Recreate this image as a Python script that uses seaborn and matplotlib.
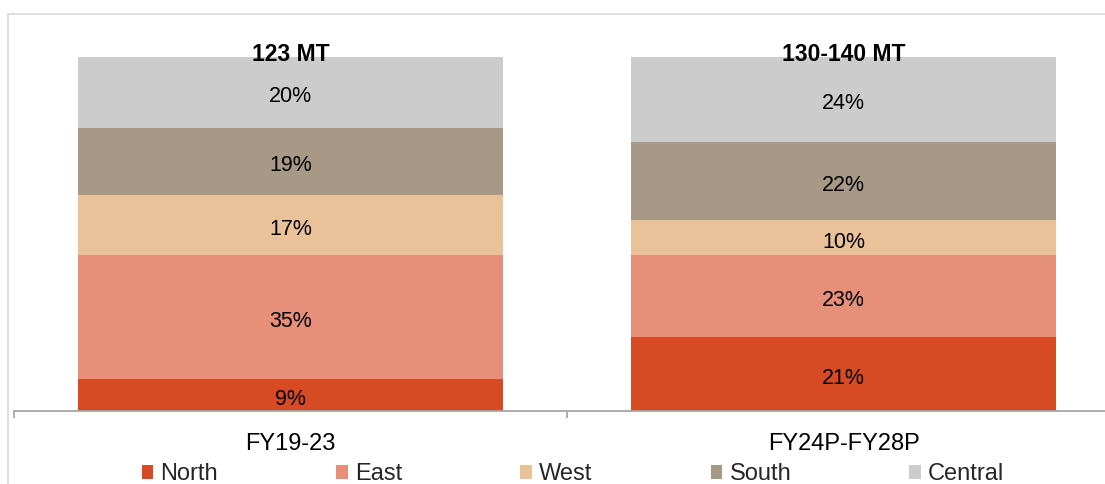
import matplotlib
matplotlib.use("Agg")
import matplotlib.pyplot as plt
from matplotlib.patches import Rectangle
from matplotlib.transforms import offset_copy
import numpy as np
import pandas as pd
import seaborn as sns

# Regional mix of capacity additions (share of total, %)
periods = ["FY19-23", "FY24P-FY28P"]
totals = ["123 MT", "130-140 MT"]
regions = ["North", "East", "West", "South", "Central"]
north = [9, 21]
east = [35, 23]
west = [17, 10]
south = [19, 22]
central = [20, 24]
colors = ["#D64A24", "#E6907A", "#E9C29A", "#A89886", "#CCCCCC"]

shares = np.array([north, east, west, south, central], dtype=float)
cum = np.cumsum(shares, axis=0)

sns.set_theme(style="white")
plt.rcParams["font.family"] = ["Liberation Sans", "DejaVu Sans"]

W, H = 1105, 484
fig = plt.figure(figsize=(W / 100, H / 100), dpi=100)
ax = fig.add_axes([14 / W, (H - 411) / H, (1120 - 14) / W, (411 - 57) / H])

# stacked bars: draw cumulative totals from the top layer down
for i in range(len(regions) - 1, -1, -1):
    df = pd.DataFrame({"period": periods, "value": cum[i]})
    sns.barplot(data=df, x="period", y="value", color=colors[i], width=0.767,
                saturation=1, linewidth=0, edgecolor="none", ax=ax, zorder=2)

ax.set_xlim(-0.5, 1.5)
ax.set_ylim(0, 100)
ax.set_xlabel("")
ax.set_ylabel("")
ax.set_yticks([])

# labels sit a few pixels below the geometric centre of each segment
label_tr = offset_copy(ax.transData, fig=fig, x=0, y=-4.5, units="dots")
title_tr = offset_copy(ax.transData, fig=fig, x=0, y=-3, units="dots")

for j in range(len(periods)):
    base = 0.0
    for i in range(len(regions)):
        v = shares[i, j]
        ax.text(j, base + v / 2, f"{v:.0f}%", ha="center", va="center",
                fontsize=15.5, color="black", zorder=5, transform=label_tr)
        base += v
    ax.text(j, 101.6, totals[j], ha="center", va="center", fontsize=16.5,
            fontweight="bold", color="black", zorder=6, clip_on=False,
            transform=title_tr)

for s in ["left", "right", "top"]:
    ax.spines[s].set_visible(False)
ax.spines["bottom"].set_color("#A6A6A6")
ax.spines["bottom"].set_linewidth(1.3)
ax.spines["bottom"].set_zorder(3)

ax.set_xticks([0, 1])
ax.set_xticklabels(periods, fontsize=17)
ax.tick_params(axis="x", which="major", length=0, pad=15.5, colors="black")
ax.set_xticks([-0.5, 0.5, 1.5], minor=True)
ax.tick_params(axis="x", which="minor", length=5, width=1.3, color="#A6A6A6",
               direction="out", bottom=True)

# legend
handles = [Rectangle((0, 0), 1, 1, facecolor=c, edgecolor="none") for c in colors]
fig.legend(handles, regions, loc="center", bbox_to_anchor=(573 / W, 1 - 474.5 / H),
           ncol=5, frameon=False, fontsize=17, handlelength=0.5,
           handleheight=0.5, handletextpad=0.3, columnspacing=5.0,
           borderpad=0, borderaxespad=0)

# outer frame
fig.patches.append(Rectangle((8 / W, -0.2), 1.2, 1.2 - 14 / H,
                             transform=fig.transFigure, fill=False,
                             edgecolor="#D9D9D9", linewidth=1.2, zorder=0))

fig.savefig("out.png", dpi=100)
